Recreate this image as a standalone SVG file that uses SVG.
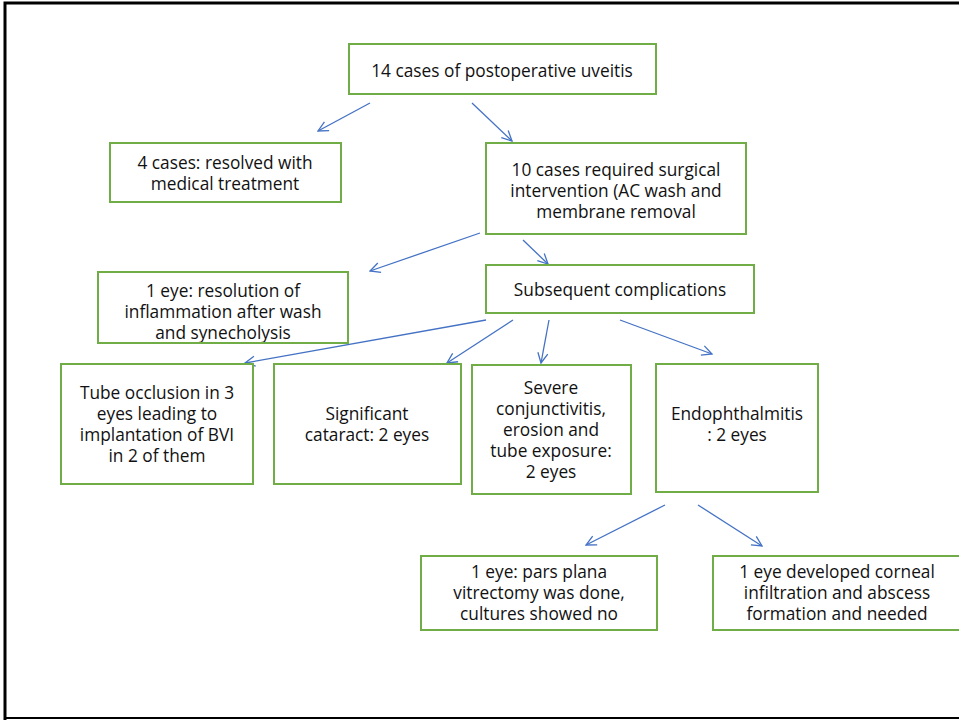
<svg xmlns="http://www.w3.org/2000/svg" width="959" height="720" viewBox="0 0 959 720">
<style>
.box{fill:#fff;stroke:#70AD47;stroke-width:2}
.t{font-family:"Open Sans","Noto Sans","Liberation Sans",sans-serif;font-size:17.3px;fill:#111;text-anchor:middle}
.c{stroke:#4472C4;stroke-width:1.3;fill:none;marker-end:url(#ah)}
</style>
<defs>
<marker id="ah" viewBox="0 0 12 12" refX="11" refY="6" markerWidth="12" markerHeight="12" markerUnits="userSpaceOnUse" orient="auto">
<path d="M1,1 L11,6 L1,11" fill="none" stroke="#4472C4" stroke-width="1.3"/>
</marker>
<clipPath id="cl4"><rect x="98" y="272" width="250" height="71"/></clipPath>
</defs>
<rect x="0" y="0" width="959" height="720" fill="#fff"/>
<path d="M5,720 V3 H959" fill="none" stroke="#000" stroke-width="3"/>
<path d="M5,718 H959" fill="none" stroke="#000" stroke-width="2"/>
<g id="connectors">
<line class="c" x1="370" y1="103" x2="318" y2="131"/>
<line class="c" x1="472" y1="103" x2="512" y2="141"/>
<line class="c" x1="480" y1="233" x2="370" y2="271"/>
<line class="c" x1="523" y1="240" x2="548" y2="264"/>
<line class="c" x1="486" y1="320" x2="245" y2="363"/>
<line class="c" x1="513" y1="320" x2="447" y2="363"/>
<line class="c" x1="549" y1="320" x2="541" y2="363"/>
<line class="c" x1="620" y1="320" x2="712" y2="354"/>
<line class="c" x1="665" y1="505" x2="586" y2="545"/>
<line class="c" x1="698" y1="505" x2="762" y2="546"/>
</g>
<g id="n1"><rect class="box" x="349" y="44" width="307" height="50"/><text class="t" x="502" y="77">14 cases of postoperative uveitis</text></g>
<g id="n2"><rect class="box" x="110" y="143" width="231" height="59"/><text class="t" x="225" y="169">4 cases: resolved with</text><text class="t" x="225" y="190">medical treatment</text></g>
<g id="n3"><rect class="box" x="486" y="143" width="260" height="91"/><text class="t" x="616" y="176">10 cases required surgical</text><text class="t" x="616" y="197">intervention (AC wash and</text><text class="t" x="616" y="218">membrane removal</text></g>
<g id="n4"><rect class="box" x="98" y="272" width="250" height="71"/><g clip-path="url(#cl4)"><text class="t" x="223" y="297">1 eye: resolution of</text><text class="t" x="223" y="318">inflammation after wash</text><text class="t" x="223" y="339">and synecholysis</text></g><rect x="98" y="272" width="250" height="71" fill="none" stroke="#70AD47" stroke-width="2"/></g>
<g id="n5"><rect class="box" x="486" y="265" width="268" height="48"/><text class="t" x="620" y="296">Subsequent complications</text></g>
<g id="n6"><rect class="box" x="61" y="364" width="192" height="120"/><text class="t" x="157" y="399">Tube occlusion in 3</text><text class="t" x="157" y="420">eyes leading to</text><text class="t" x="157" y="441">implantation of BVI</text><text class="t" x="157" y="462">in 2 of them</text></g>
<g id="n7"><rect class="box" x="274" y="364" width="187" height="120"/><text class="t" x="367" y="420">Significant</text><text class="t" x="367" y="441">cataract: 2 eyes</text></g>
<g id="n8"><rect class="box" x="472" y="365" width="159" height="129"/><text class="t" x="551" y="394">Severe</text><text class="t" x="551" y="415">conjunctivitis,</text><text class="t" x="551" y="436">erosion and</text><text class="t" x="551" y="457">tube exposure:</text><text class="t" x="551" y="478">2 eyes</text></g>
<g id="n9"><rect class="box" x="656" y="364" width="162" height="128"/><text class="t" x="737" y="420">Endophthalmitis</text><text class="t" x="737" y="441">: 2 eyes</text></g>
<g id="n10"><rect class="box" x="421" y="556" width="236" height="74"/><text class="t" x="539" y="578">1 eye: pars plana</text><text class="t" x="539" y="599">vitrectomy was done,</text><text class="t" x="539" y="620">cultures showed no</text></g>
<g id="n11"><rect class="box" x="713" y="556" width="260" height="74"/><text class="t" x="837" y="578">1 eye developed corneal</text><text class="t" x="837" y="599">infiltration and abscess</text><text class="t" x="837" y="620">formation and needed</text></g>
</svg>
